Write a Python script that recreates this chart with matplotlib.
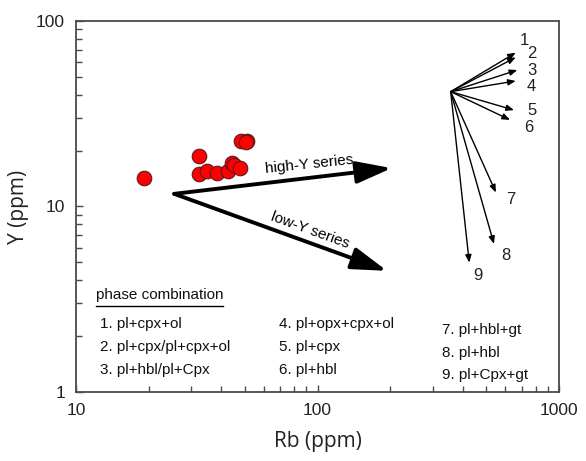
import matplotlib
matplotlib.use("Agg")
import matplotlib.pyplot as plt
from matplotlib.lines import Line2D

plt.rcParams['font.family'] = ['Liberation Sans', 'DejaVu Sans']

# Sample data (Rb ppm, Y ppm)
rb = [19.1, 32.3, 32.3, 35.0, 38.2, 42.5, 44.1, 45.2, 47.8, 48.1, 50.9, 50.5]
y_ppm = [14.2, 18.7, 15.0, 15.5, 15.2, 15.6, 17.1, 16.7, 16.1, 22.6, 22.6, 22.2]

# Series trend arrows
trend_start = (25.5, 11.7)
trend_names = ["high-Y series", "low-Y series"]
trend_ends = [(203, 16.1), (194, 4.5)]

# Fractionation vectors (phase combinations)
fan_origin = (356, 41.6)
fan_labels = ["1", "2", "3", "4", "5", "6", "7", "8", "9"]
fan_rb = [662, 662, 672, 662, 651, 627, 548, 538, 425]
fan_y = [67.5, 63.7, 54.4, 47.5, 33.1, 29.3, 11.9, 6.28, 4.98]
fan_label_offsets = [(4, 12), (11, 4), (10, 0), (11, -6), (13, 0), (14, -8), (10, -7), (7, -12), (4, -13)]

legend_title = "phase combination"
legend_col1 = ["1. pl+cpx+ol", "2. pl+cpx/pl+cpx+ol", "3. pl+hbl/pl+Cpx"]
legend_col2 = ["4. pl+opx+cpx+ol", "5. pl+cpx", "6. pl+hbl"]
legend_col3 = ["7. pl+hbl+gt", "8. pl+hbl", "9. pl+Cpx+gt"]

fig = plt.figure(figsize=(5.86, 4.61), dpi=100)
ax = fig.add_axes([76/586, 1-392/461, 483/586, 371/461])
ax.set_xscale('log')
ax.set_yscale('log')
ax.set_xlim(10, 1000)
ax.set_ylim(1, 100)

spine_c = '#4a4a4a'
for s in ['left', 'bottom', 'right', 'top']:
    ax.spines[s].set_color(spine_c)
    ax.spines[s].set_linewidth(1.3)

ax.tick_params(which='both', direction='in', top=False, right=False, color=spine_c, width=1.0)
ax.tick_params(which='major', length=5, labelsize=12.5, labelcolor='#222222', pad=8)
ax.tick_params(which='minor', length=4)
ax.set_xticks([10, 100, 1000])
ax.set_xticklabels(['10', '100', '1000'])
ax.set_yticks([1, 10, 100])
ax.set_yticklabels(['1', '10', '100'])

ax.set_xlabel('Rb (ppm)', fontsize=15, family=['Open Sans', 'DejaVu Sans'], color='#222222', labelpad=9)
ax.set_ylabel('Y (ppm)', fontsize=15, family=['Open Sans', 'DejaVu Sans'], color='#222222', labelpad=5)

# samples
ax.scatter(rb, y_ppm, s=110, c='#ff0000', edgecolors='#5a1a1a', linewidths=0.8, zorder=3)

# trend arrows
for (ex, ey), name in zip(trend_ends, trend_names):
    ax.annotate('', xy=(ex, ey), xytext=trend_start,
                arrowprops=dict(arrowstyle='-|>,head_length=1.35,head_width=0.42',
                                mutation_scale=16, lw=2.8, color='black',
                                shrinkA=0, shrinkB=0))

ax.annotate(trend_names[0], xy=(0.4840, 0.6135), xycoords='axes fraction',
            fontsize=11, rotation=6, ha='center', va='center', rotation_mode='anchor')
ax.annotate(trend_names[1], xy=(0.4845, 0.4367), xycoords='axes fraction',
            fontsize=11, rotation=-20, ha='center', va='center', rotation_mode='anchor')

# fan vectors
for lab, fx, fy, (ox, oy) in zip(fan_labels, fan_rb, fan_y, fan_label_offsets):
    ax.annotate('', xy=(fx, fy), xytext=fan_origin,
                arrowprops=dict(arrowstyle='-|>,head_length=0.45,head_width=0.18',
                                mutation_scale=10, lw=1.0, color='black',
                                shrinkA=0, shrinkB=0))
    ax.annotate(lab, xy=(fx, fy), xytext=(ox, oy), textcoords='offset pixels',
                fontsize=12, ha='left', va='center', color='#222222')

# legend block
ax.text(0.0414, 0.2615, legend_title, transform=ax.transAxes, fontsize=11,
        ha='left', va='center', color='#111111')
ax.add_line(Line2D([0.0414, 0.3043], [0.2318, 0.2318], transform=ax.transAxes,
                   color='black', lw=1.0))
for col, x0, ys in [(legend_col1, 0.0497, [0.1833, 0.1213, 0.0593]),
                    (legend_col2, 0.4203, [0.1833, 0.1213, 0.0593]),
                    (legend_col3, 0.7578, [0.1671, 0.1051, 0.0458])]:
    for t, yy in zip(col, ys):
        ax.text(x0, yy, t, transform=ax.transAxes, fontsize=11, ha='left',
                va='center', color='#111111')

fig.savefig('out.png', dpi=100)
